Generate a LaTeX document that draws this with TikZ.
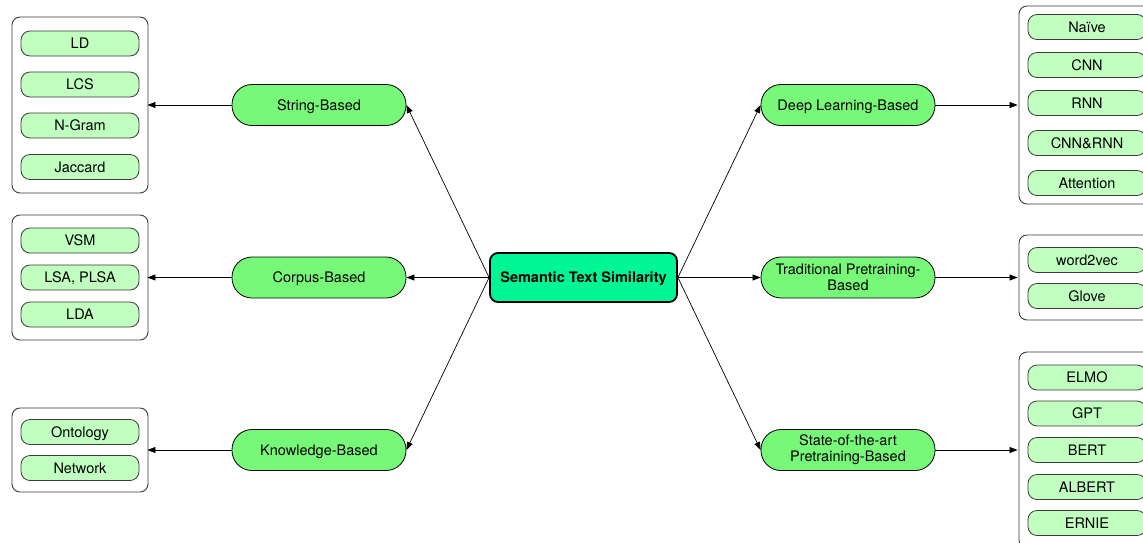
\documentclass[tikz,border=0pt]{standalone}
\usepackage{fontspec}
\setmainfont{TeX Gyre Heros}
\usetikzlibrary{arrows.meta}
\definecolor{catgreen}{HTML}{78F878}
\definecolor{itemgreen}{HTML}{C0FFC0}
\definecolor{maingreen}{HTML}{00F594}
\definecolor{boxline}{HTML}{3A3A3A}
\tikzset{
  every node/.style={font=\fontsize{14.5}{16}\selectfont, text=black},
  oneline/.style={text height=10.5pt, text depth=0pt},
  cat/.style={draw=black, line width=0.8pt, fill=catgreen, rounded corners=20pt,
    minimum width=174pt, minimum height=41pt, align=center, inner sep=0pt},
  item/.style={draw=boxline, line width=0.8pt, fill=itemgreen, rounded corners=9pt,
    minimum width=118pt, minimum height=25pt, inner sep=0pt, oneline},
  group/.style={draw=boxline, line width=0.9pt, rounded corners=8pt,
    minimum width=136pt, inner sep=0pt},
  conn/.style={draw=black, line width=0.7pt, -{Triangle[length=8pt,width=6pt]}},
}
\begin{document}
\begin{tikzpicture}[x=1pt,y=-1pt]
\clip (0,0) rectangle (1143,542);
\fill[white] (0,0) rectangle (1143,542);

% centre
\node[draw=black, line width=1.8pt, fill=maingreen, rounded corners=8pt,
  minimum width=187pt, minimum height=49pt, inner sep=0pt, oneline,
  font=\fontsize{14.5}{16}\selectfont\bfseries] (sts) at (583.5,277.5) {Semantic Text Similarity};

% categories
\node[cat, oneline] (str) at (319,105) {String-Based};
\node[cat, oneline] (cor) at (319,277.5) {Corpus-Based};
\node[cat, oneline] (kno) at (319,450) {Knowledge-Based};
\node[cat, oneline] (dl) at (848,105) {Deep Learning-Based};
\node[cat] (tp) at (848,277.5) {Traditional Pretraining-\\Based};
\node[cat] (sp) at (848,450) {State-of-the-art\\Pretraining-Based};

% groups
\node[group, minimum height=176pt] (gstr) at (80,105) {};
\node[group, minimum height=125pt] (gcor) at (80,277.5) {};
\node[group, minimum height=84pt] (gkno) at (80,450) {};
\node[group, minimum height=198pt] (gdl) at (1087,105) {};
\node[group, minimum height=85pt] (gtp) at (1087,277.5) {};
\node[group, minimum height=196pt] (gsp) at (1087,450) {};

% items left
\node[item] (ld) at (80,43.5) {LD};
\node[item] (lcs) at (80,84.5) {LCS};
\node[item] (ngram) at (80,125.5) {N-Gram};
\node[item] (jac) at (80,167) {Jaccard};
\node[item] (vsm) at (80,240.5) {VSM};
\node[item] (lsa) at (80,277.5) {LSA, PLSA};
\node[item] (lda) at (80,314.5) {LDA};
\node[item] (onto) at (80,432) {Ontology};
\node[item] (net) at (80,468) {Network};

% items right
\node[item] (naive) at (1087,27) {Naïve};
\node[item] (cnn) at (1087,65) {CNN};
\node[item] (rnn) at (1087,103) {RNN};
\node[item] (cr) at (1087,143) {CNN\&RNN};
\node[item] (att) at (1087,183) {Attention};
\node[item] (w2v) at (1087,260) {word2vec};
\node[item] (glove) at (1087,296) {Glove};
\node[item] (elmo) at (1087,377.5) {ELMO};
\node[item] (gpt) at (1087,413.5) {GPT};
\node[item] (bert) at (1087,450) {BERT};
\node[item] (albert) at (1087,487) {ALBERT};
\node[item] (ernie) at (1087,523) {ERNIE};

% connectors
\draw[conn] (sts.west) -- (str.east);
\draw[conn] (sts.west) -- (cor.east);
\draw[conn] (sts.west) -- (kno.east);
\draw[conn] (sts.east) -- (dl.west);
\draw[conn] (sts.east) -- (tp.west);
\draw[conn] (sts.east) -- (sp.west);

\draw[conn] (str.west) -- ([xshift=-1pt]gstr.east);
\draw[conn] (cor.west) -- ([xshift=-1pt]gcor.east);
\draw[conn] (kno.west) -- ([xshift=-1pt]gkno.east);
\draw[conn] (dl.east) -- ([xshift=-1pt]gdl.west);
\draw[conn] (tp.east) -- ([xshift=-1pt]gtp.west);
\draw[conn] (sp.east) -- ([xshift=-1pt]gsp.west);
\end{tikzpicture}
\end{document}
